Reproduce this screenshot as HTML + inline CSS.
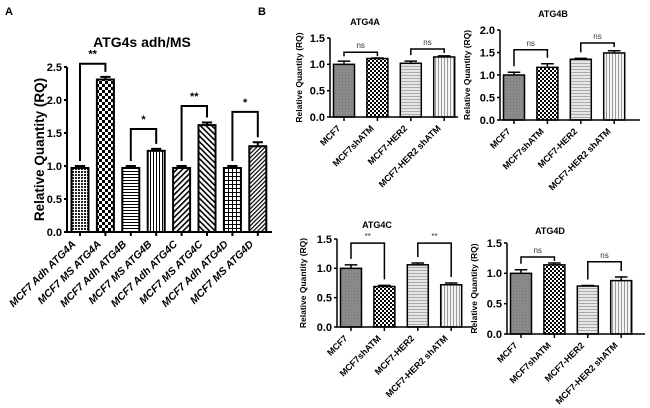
<!DOCTYPE html>
<html><head><meta charset="utf-8"><style>
html,body{margin:0;padding:0;background:#fff;}
svg{display:block;font-family:"Liberation Sans",Arial,sans-serif;}
</style></head><body>
<svg id="fig" width="650" height="408" viewBox="0 0 650 408" xmlns="http://www.w3.org/2000/svg">
<defs>
<pattern id="pDots" width="3" height="3" patternUnits="userSpaceOnUse"><rect width="3" height="3" fill="#fff"/><rect width="2" height="2" fill="#222"/></pattern>
<pattern id="pCheck" width="6" height="6" patternUnits="userSpaceOnUse"><rect width="6" height="6" fill="#fff"/><rect width="3" height="3" fill="#000"/><rect x="3" y="3" width="3" height="3" fill="#000"/></pattern>
<pattern id="pCheckS" width="4" height="4" patternUnits="userSpaceOnUse"><rect width="4" height="4" fill="#fff"/><rect width="2" height="2" fill="#000"/><rect x="2" y="2" width="2" height="2" fill="#000"/></pattern>
<pattern id="pHor" width="4" height="3" patternUnits="userSpaceOnUse"><rect width="4" height="3" fill="#fff"/><rect width="4" height="1" fill="#000"/></pattern>
<pattern id="pVer" width="3" height="4" patternUnits="userSpaceOnUse"><rect width="3" height="4" fill="#fff"/><rect width="1" height="4" fill="#000"/></pattern>
<pattern id="pDiag1" width="4" height="4" patternUnits="userSpaceOnUse" patternTransform="rotate(45)"><rect width="4" height="4" fill="#fff"/><rect width="1.6" height="4" fill="#000"/></pattern>
<pattern id="pDiag2" width="4" height="4" patternUnits="userSpaceOnUse" patternTransform="rotate(-45)"><rect width="4" height="4" fill="#fff"/><rect width="1.6" height="4" fill="#000"/></pattern>
<pattern id="pGrid" width="4" height="4" patternUnits="userSpaceOnUse"><rect width="4" height="4" fill="#fff"/><rect width="4" height="1" fill="#000"/><rect width="1" height="4" fill="#000"/></pattern>
<pattern id="pDiag3" width="3" height="3" patternUnits="userSpaceOnUse" patternTransform="rotate(45)"><rect width="3" height="3" fill="#fff"/><rect width="1.2" height="3" fill="#000"/></pattern>
<pattern id="pGray" width="3" height="3" patternUnits="userSpaceOnUse"><rect width="3" height="3" fill="#8a8a8a"/><rect width="1" height="1" fill="#777"/></pattern>
<pattern id="pLHor" width="4" height="3" patternUnits="userSpaceOnUse"><rect width="4" height="3" fill="#e6e6e6"/><rect width="4" height="1" fill="#aaa"/></pattern>
<pattern id="pLVer" width="3" height="4" patternUnits="userSpaceOnUse"><rect width="3" height="4" fill="#f4f4f4"/><rect width="1" height="4" fill="#999"/></pattern>
</defs>
<text x="5" y="15" font-size="11" font-weight="bold">A</text>
<text x="258" y="15" font-size="11" font-weight="bold">B</text>
</svg>
<script>
// Panel A data
const aCategories = ["MCF7 Adh ATG4A","MCF7 MS ATG4A","MCF7 Adh ATG4B","MCF7 MS ATG4B","MCF7 Adh ATG4C","MCF7 MS ATG4C","MCF7 Adh ATG4D","MCF7 MS ATG4D"];
const aValues = [0.97, 2.31, 0.97, 1.23, 0.97, 1.62, 0.97, 1.30];
const aErrors = [0.03, 0.04, 0.03, 0.03, 0.03, 0.04, 0.03, 0.06];
const aTicks = ["0.0","0.5","1.0","1.5","2.0","2.5"];
const aSigLabels = ["**","*","**","*"];
const aSigLevels = [2.55, 1.56, 1.91, 1.82];
// Panel B data
const bCategories = ["MCF7","MCF7shATM","MCF7-HER2","MCF7-HER2 shATM"];
const atg4aValues = [1.00, 1.11, 1.02, 1.14];
const atg4aErrors = [0.06, 0.01, 0.04, 0.02];
const atg4aSig = ["ns","ns"];
const atg4aSigLevels = [1.23, 1.29];
const atg4bValues = [1.00, 1.17, 1.35, 1.49];
const atg4bErrors = [0.06, 0.08, 0.02, 0.05];
const atg4bSig = ["ns","ns"];
const atg4bSigLevels = [1.56, 1.71];
const atg4cValues = [1.00, 0.69, 1.06, 0.72];
const atg4cErrors = [0.06, 0.02, 0.03, 0.03];
const atg4cSig = ["**","**"];
const atg4cSigLevels = [1.43, 1.43];
const atg4dValues = [1.00, 1.14, 0.79, 0.88];
const atg4dErrors = [0.06, 0.03, 0.01, 0.06];
const atg4dSig = ["ns","ns"];
const atg4dSigLevels = [1.27, 1.19];
const smallTicks15 = ["0.0","0.5","1.0","1.5"];
const smallTicks20 = ["0.0","0.5","1.0","1.5","2.0"];

const NS = "http://www.w3.org/2000/svg";
const svg = document.getElementById("fig");
function mk(tag, attrs, parent, text) {
  const e = document.createElementNS(NS, tag);
  for (const k in attrs) e.setAttribute(k, attrs[k]);
  if (text !== undefined) e.textContent = text;
  (parent || svg).appendChild(e);
  return e;
}

function drawPanel(cfg) {
  const g = mk("g", {});
  
  
  const yMax = parseFloat(cfg.ticks[cfg.ticks.length - 1]);
  const ys = v => cfg.y0 - (v / yMax) * (cfg.y0 - cfg.yTop);
  const xs = i => cfg.x0 + cfg.firstOffset + i * cfg.step;
  const t = mk("text", {x: cfg.titleX, y: cfg.titleY, "font-size": cfg.titleSize, "font-weight": "bold", "text-anchor": "middle"}, g, cfg.title);
  
  
  const yl = mk("text", {x: 0, y: 0, "font-size": cfg.ylSize, "font-weight": "bold", "text-anchor": "middle", transform: `translate(${cfg.ylX},${(cfg.y0 + cfg.yTop) / 2}) rotate(-90)`}, g, "Relative Quantity (RQ)");
  
  
  cfg.values.forEach((v, i) => {
    const cx = xs(i);
    const r = mk("rect", {x: cx - cfg.bw / 2, y: ys(v), width: cfg.bw, height: cfg.y0 - ys(v), fill: cfg.fills[i], stroke: "#000", "stroke-width": cfg.sw}, g);
    
    
    const top = ys(v + cfg.errors[i]);
    const eb = mk("path", {d: `M${cx},${ys(v)}V${top}M${cx - cfg.bw * 0.3},${top}H${cx + cfg.bw * 0.3}`, stroke: "#000", "stroke-width": cfg.sw, fill: "none"}, g);
    
    
  });
  const ax = mk("path", {d: `M${cfg.x0},${cfg.yTop}V${cfg.y0}H${cfg.xEnd}`, stroke: "#000", "stroke-width": cfg.sw, fill: "none"}, g);
  
  
  cfg.ticks.forEach(tk => {
    const y = ys(parseFloat(tk));
    mk("line", {x1: cfg.x0 - 3, x2: cfg.x0, y1: y, y2: y, stroke: "#000", "stroke-width": cfg.sw}, g);
    const tl = mk("text", {x: cfg.x0 - 5, y: y + cfg.tickSize * 0.35, "font-size": cfg.tickSize, "font-weight": "bold", "text-anchor": "end"}, g, tk);
    
    
  });
  cfg.cats.forEach((c, i) => {
    const x = xs(i);
    mk("line", {x1: x, x2: x, y1: cfg.y0, y2: cfg.y0 + 4, stroke: "#000", "stroke-width": cfg.sw}, g);
    const off = cfg.xlSize * 0.55;
    const xl = mk("text", {x: 0, y: 0, "font-size": cfg.xlSize, "font-weight": "bold", "font-style": cfg.xlStyle, "text-anchor": "end", transform: `translate(${x + 2 - off},${cfg.y0 + 7 + off}) rotate(-45)`}, g, c);
    
    
  });
  cfg.sig.forEach((s, k) => {
    const i1 = k * 2, i2 = k * 2 + 1;
    const x1 = xs(i1), x2 = xs(i2);
    const yb = ys(cfg.sigLevels[k]);
    const l1 = Math.max(yb + 4, ys(cfg.values[i1] + cfg.errors[i1]) - cfg.legGap);
    const l2 = Math.max(yb + 4, ys(cfg.values[i2] + cfg.errors[i2]) - cfg.legGap);
    const br = mk("path", {d: `M${x1},${l1}V${yb}H${x2}V${l2}`, stroke: "#000", "stroke-width": cfg.sw, fill: "none"}, g);
    
    
    const st = mk("text", {x: (x1 + x2) / 2, y: yb - cfg.sigOff, "font-size": cfg.sigSize, "font-weight": cfg.sigWeight, "text-anchor": "middle", fill: cfg.sigColor}, g, s);
    
    
  });
}

drawPanel({name: "panel-a-chart", title: "ATG4s adh/MS", titleX: 142, titleY: 47, titleSize: 14,
  ylX: 44, ylSize: 13.5, x0: 67, xEnd: 272, y0: 232, yTop: 67, firstOffset: 13, step: 25.4, bw: 17, sw: 2,
  values: aValues, errors: aErrors, cats: aCategories, ticks: aTicks, tickSize: 11, xlSize: 10.5, xlStyle: "italic",
  fills: ["url(#pDots)","url(#pCheck)","url(#pHor)","url(#pVer)","url(#pDiag1)","url(#pDiag2)","url(#pGrid)","url(#pDiag3)"],
  sig: aSigLabels, sigLevels: aSigLevels, legGap: 5, sigOff: 6, sigSize: 11, sigWeight: "bold", sigColor: "#000"});

const bFills = ["url(#pGray)","url(#pCheckS)","url(#pLHor)","url(#pLVer)"];
function small(name, title, tx, ty, ylX, x0, xEnd, y0, yTop, vals, errs, ticks, sig, lev) {
  drawPanel({name: name, title: title, titleX: tx, titleY: ty, titleSize: 9, ylX: ylX, ylSize: 8.5,
    x0: x0, xEnd: xEnd, y0: y0, yTop: yTop, firstOffset: 14, step: 33.4, bw: 21, sw: 1.5,
    values: vals, errors: errs, cats: bCategories, ticks: ticks, tickSize: 11, xlSize: 9, xlStyle: "normal",
    fills: bFills, sig: sig, sigLevels: lev, legGap: 6, sigOff: 4, sigSize: 8, sigWeight: "normal", sigColor: "#333"});
}
small("atg4a-chart", "ATG4A", 365, 25, 302, 330, 458, 117, 38, atg4aValues, atg4aErrors, smallTicks15, atg4aSig, atg4aSigLevels);
small("atg4b-chart", "ATG4B", 553, 17, 470, 500, 640, 120, 30, atg4bValues, atg4bErrors, smallTicks20, atg4bSig, atg4bSigLevels);
small("atg4c-chart", "ATG4C", 377, 228, 306, 337, 473, 327, 239, atg4cValues, atg4cErrors, smallTicks15, atg4cSig, atg4cSigLevels);
small("atg4d-chart", "ATG4D", 550, 234, 477, 507, 645, 334, 243, atg4dValues, atg4dErrors, smallTicks15, atg4dSig, atg4dSigLevels);
</script>
</body></html>
